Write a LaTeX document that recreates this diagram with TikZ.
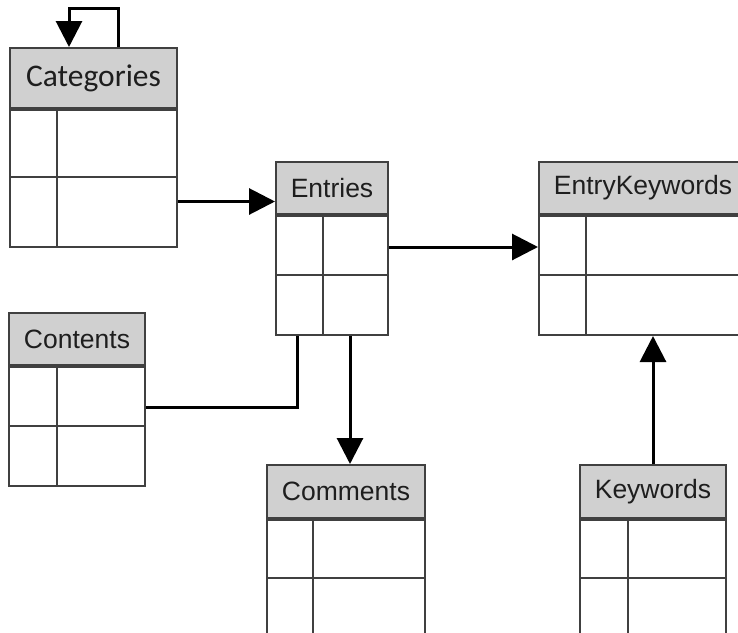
\documentclass[tikz,border=0pt]{standalone}
\usepackage{fontspec}
\setmainfont{Liberation Sans}
\newfontfamily\calib{Carlito}
\usetikzlibrary{arrows.meta,calc}
\definecolor{hdrfill}{HTML}{D0D0D0}
\definecolor{bordc}{HTML}{404040}
\definecolor{txtc}{HTML}{1E1E1E}
\tikzset{
  hdr/.style={draw=bordc, line width=2pt, fill=hdrfill, anchor=north west, inner sep=0pt, text=txtc,
    font=\fontsize{26.5}{30}\selectfont},
  bodybox/.style={draw=bordc, line width=2pt, fill=white, anchor=north west, inner sep=0pt},
  cellline/.style={draw=bordc, line width=2pt},
  conn/.style={draw=black, line width=3pt},
  arr/.style={conn, -{Triangle[length=26pt,width=26pt]}}
}
\begin{document}
\begin{tikzpicture}[x=1pt,y=-1pt]
\path[use as bounding box, clip] (0,0) rectangle (738,632);
\fill[white] (0,0) rectangle (738,632);
% Categories
\node[hdr, minimum width=167pt, minimum height=60pt, font=\calib\fontsize{31.5}{34}\selectfont] (catH) at (9,47) {Categories};
\node[bodybox, minimum width=167pt, minimum height=137pt] (catB) at (catH.south west) {};
\draw[cellline] ($(catB.north west)+(48,0)$) -- ($(catB.south west)+(48,0)$);
\draw[cellline] ($(catB.north west)+(0,68)$) -- ($(catB.north east)+(0,68)$);
% Entries
\node[hdr, minimum width=112pt, minimum height=52pt] (entH) at (275,161) {Entries};
\node[bodybox, minimum width=112pt, minimum height=119pt] (entB) at (entH.south west) {};
\draw[cellline] ($(entB.north west)+(48,0)$) -- ($(entB.south west)+(48,0)$);
\draw[cellline] ($(entB.north west)+(0,60)$) -- ($(entB.north east)+(0,60)$);
% EntryKeywords
\node[hdr, minimum width=208pt, minimum height=52pt] (ekH) at (538,161) {EntryKeywords};
\node[bodybox, minimum width=208pt, minimum height=119pt] (ekB) at (ekH.south west) {};
\draw[cellline] ($(ekB.north west)+(48,0)$) -- ($(ekB.south west)+(48,0)$);
\draw[cellline] ($(ekB.north west)+(0,60)$) -- ($(ekB.north east)+(0,60)$);
% Contents
\node[hdr, minimum width=136pt, minimum height=52pt] (conH) at (8,312) {Contents};
\node[bodybox, minimum width=136pt, minimum height=119pt] (conB) at (conH.south west) {};
\draw[cellline] ($(conB.north west)+(49,0)$) -- ($(conB.south west)+(49,0)$);
\draw[cellline] ($(conB.north west)+(0,60)$) -- ($(conB.north east)+(0,60)$);
% Comments
\node[hdr, minimum width=158pt, minimum height=53pt] (comH) at (266,464) {Comments};
\node[bodybox, minimum width=158pt, minimum height=130pt] (comB) at (comH.south west) {};
\draw[cellline] ($(comB.north west)+(47,0)$) -- ($(comB.south west)+(47,0)$);
\draw[cellline] ($(comB.north west)+(0,59)$) -- ($(comB.north east)+(0,59)$);
% Keywords
\node[hdr, minimum width=146pt, minimum height=53pt] (kwH) at (579,464) {Keywords};
\node[bodybox, minimum width=146pt, minimum height=130pt] (kwB) at (kwH.south west) {};
\draw[cellline] ($(kwB.north west)+(49,0)$) -- ($(kwB.south west)+(49,0)$);
\draw[cellline] ($(kwB.north west)+(0,59)$) -- ($(kwB.north east)+(0,59)$);
% helper coordinates
\coordinate (loopTop) at (92.5,8);
\coordinate (y1) at (0,201.5);
\coordinate (y2) at (0,247);
\coordinate (y3) at (0,407);
\coordinate (x3) at (297,0);
\coordinate (x4) at (350,0);
% connectors
\draw[arr] ([xshift=24.5pt]catH.north) |- (loopTop) -| ([xshift=-24.5pt]catH.north);
\draw[arr] (catB.east |- y1) -- (entH.west |- y1);
\draw[arr] (entB.east |- y2) -- (ekB.west |- y2);
\draw[conn] (conB.east |- y3) -| (entB.south -| x3);
\draw[arr] (entB.south -| x4) -- (comH.north -| x4);
\draw[arr] (kwH.north) -- (ekB.south -| kwH.north);
\end{tikzpicture}
\end{document}
